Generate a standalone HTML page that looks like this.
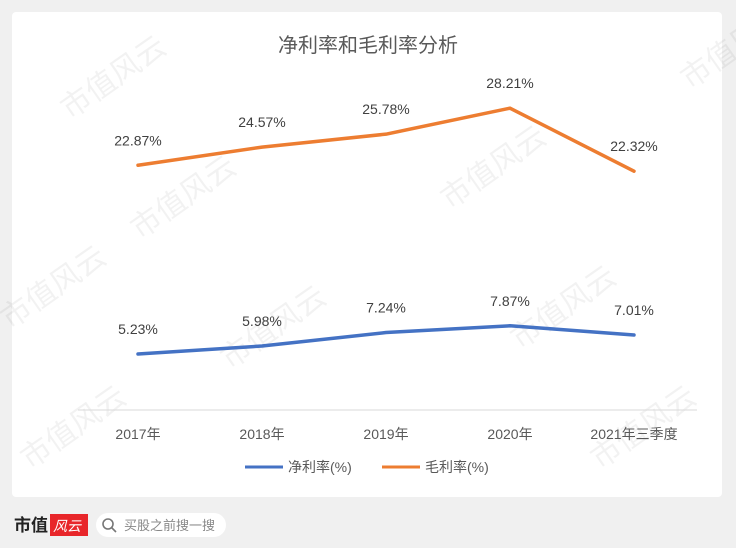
<!DOCTYPE html>
<html><head><meta charset="utf-8"><style>
body{margin:0;width:736px;height:548px;background:#f0f0f0;font-family:"Liberation Sans","Noto Sans CJK SC",sans-serif;position:relative;overflow:hidden}
#card{position:absolute;left:12px;top:12px;width:710px;height:485px;background:#fff;border-radius:4px}
svg{position:absolute;left:0;top:0}
</style></head><body>
<div id="card"></div>
<svg width="736" height="548" id="chart">
<g id="wm" fill="#000" fill-opacity="0.05" font-size="30" font-family="Noto Sans CJK SC,sans-serif">
<text transform="translate(70,120) rotate(-35)">市值风云</text>
<text transform="translate(450,210) rotate(-35)">市值风云</text>
<text transform="translate(140,240) rotate(-35)">市值风云</text>
<text transform="translate(520,350) rotate(-35)">市值风云</text>
<text transform="translate(10,330) rotate(-35)">市值风云</text>
<text transform="translate(230,370) rotate(-35)">市值风云</text>
<text transform="translate(600,470) rotate(-35)">市值风云</text>
<text transform="translate(30,470) rotate(-35)">市值风云</text>
<text transform="translate(690,90) rotate(-35)">市值风云</text>
</g>
<text x="368" y="52" text-anchor="middle" font-size="20" fill="#595959">净利率和毛利率分析</text>
<line x1="78" y1="410" x2="697" y2="410" stroke="#d9d9d9" stroke-width="1"/>
<g id="plot"></g>
<g>
<line x1="245" y1="467" x2="283" y2="467" stroke="#4472c4" stroke-width="3"/>
<text x="288" y="472" font-size="14" fill="#595959">净利率(%)</text>
<line x1="382" y1="467" x2="420" y2="467" stroke="#ed7d31" stroke-width="3"/>
<text x="425" y="472" font-size="14" fill="#595959">毛利率(%)</text>
</g>
<g>
<text x="14" y="531" font-size="17" font-weight="bold" fill="#222">市值</text>
<rect x="50" y="514" width="38" height="22" fill="#e8262a"/>
<text x="53" y="531" font-size="14" fill="#fff" font-style="italic">风云</text>
<rect x="96" y="513" width="130" height="24" rx="12" fill="#fff"/>
<circle cx="108" cy="524" r="5" fill="none" stroke="#777" stroke-width="1.6"/>
<line x1="112" y1="528" x2="116" y2="532" stroke="#777" stroke-width="1.6"/>
<text x="124" y="530" font-size="13" fill="#888">买股之前搜一搜</text>
</g>
</svg>
<script>
const categories=["2017年","2018年","2019年","2020年","2021年三季度"];
const netMargin=[5.23,5.98,7.24,7.87,7.01];
const grossMargin=[22.87,24.57,25.78,28.21,22.32];
const NS="http://www.w3.org/2000/svg";
const g=document.getElementById('plot');
function xs(i){return 138+i*124;}
function ys(v){return 410-v*10.7;}
function mk(t,a){const e=document.createElementNS(NS,t);for(const k in a)e.setAttribute(k,a[k]);g.appendChild(e);return e;}
categories.forEach((c,i)=>{const t=mk('text',{x:xs(i),y:439,'text-anchor':'middle','font-size':14,fill:'#595959'});t.textContent=c;

});
[[netMargin,'#4472c4','net-margin'],[grossMargin,'#ed7d31','gross-margin']].forEach(([d,col,n])=>{
const p=mk('polyline',{points:d.map((v,i)=>xs(i)+','+ys(v)).join(' '),fill:'none',stroke:col,'stroke-width':3.5,'stroke-linejoin':'round','stroke-linecap':'round'});


d.forEach((v,i)=>{const t=mk('text',{x:xs(i),y:ys(v)-20,'text-anchor':'middle','font-size':14,fill:'#404040'});t.textContent=v.toFixed(2)+'%';

});
});
</script>
</body></html>
